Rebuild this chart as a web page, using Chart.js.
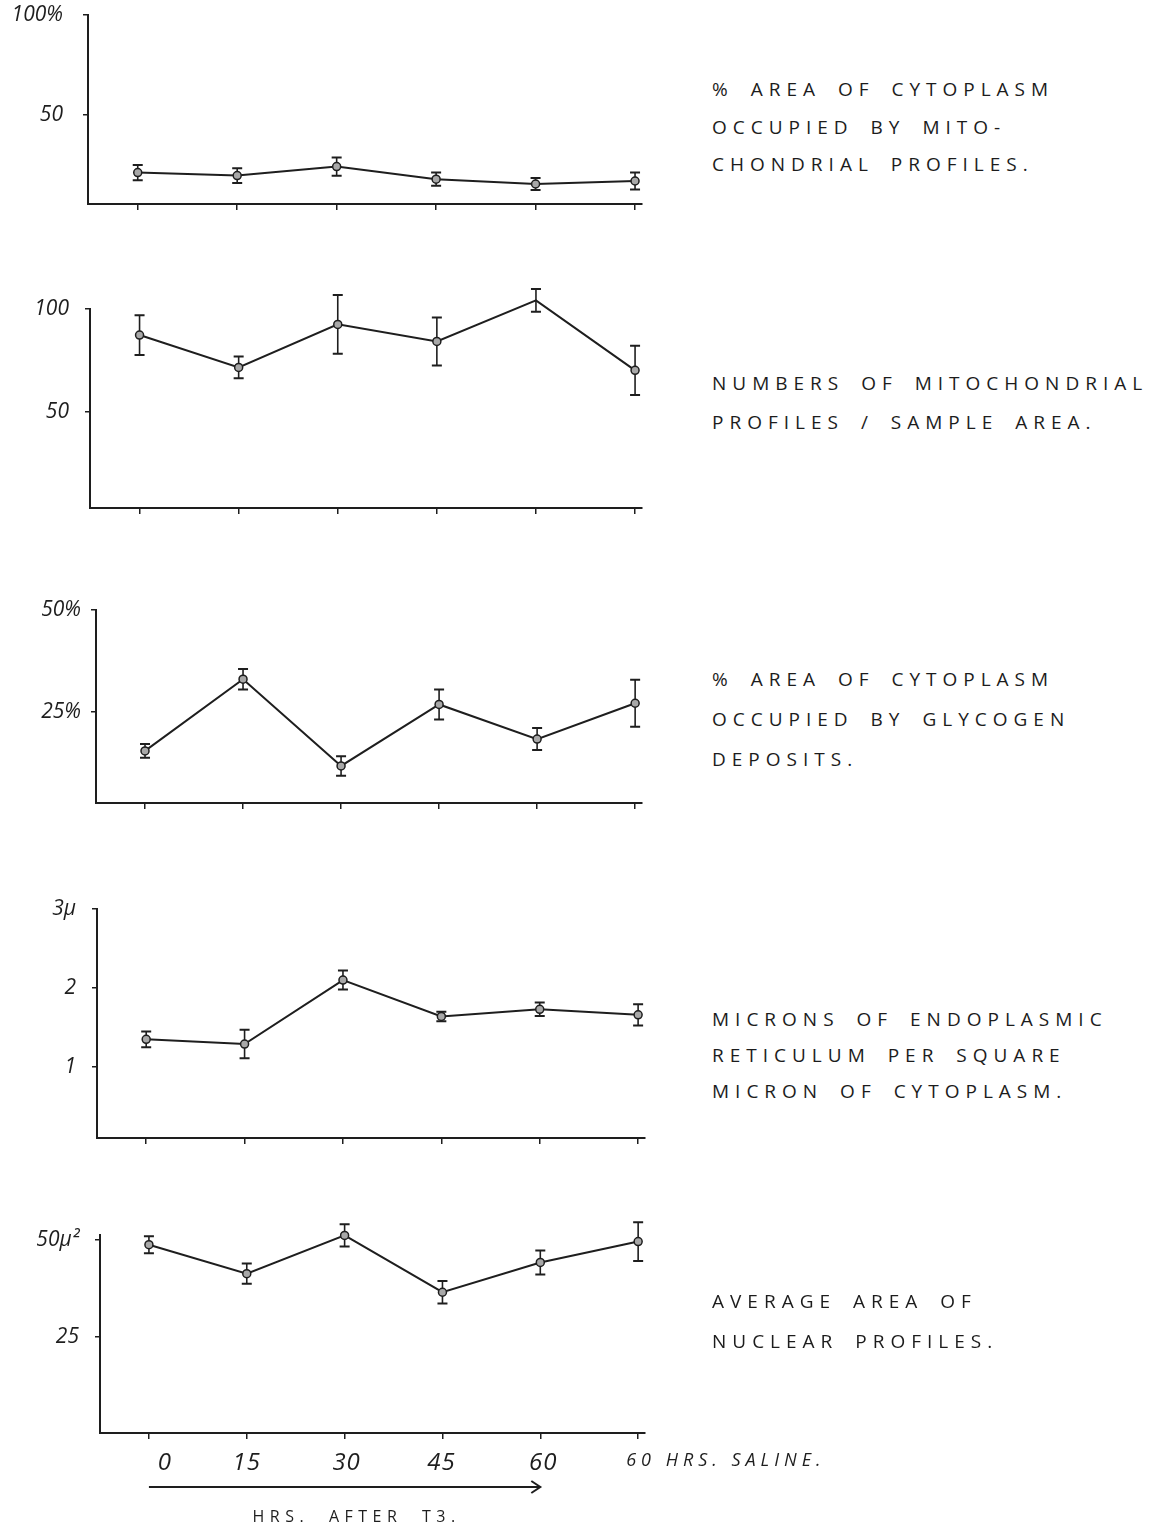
<!DOCTYPE html>
<html><head><meta charset="utf-8">
<script src="https://cdn.jsdelivr.net/npm/chart.js@4.4.0/dist/chart.umd.min.js"></script>
<style>
body{margin:0;background:#fff;width:1156px;height:1528px;position:relative;overflow:hidden;}
canvas.c{position:absolute;left:0;}
.desc{position:absolute;left:712px;color:#1c1c1c;font-family:'Open Sans','DejaVu Sans',sans-serif;font-size:19px;letter-spacing:6px;word-spacing:6px;white-space:nowrap;}
</style></head><body>
<script>
// ---- data ----
const categories = ['0','15','30','45','60','60 HRS. SALINE.'];
const mitoAreaMean = [21.2, 19.7, 24.2, 17.9, 15.5, 17.0];
const mitoAreaErr  = [3.8, 3.7, 4.6, 3.3, 3.0, 4.3];
const mitoNumMean  = [87.3, 71.5, 92.5, 84.2, 104.2, 70.1];
const mitoNumErr   = [9.7, 5.3, 14.3, 11.7, 5.5, 12.0];
const glycoMean    = [15.4, 33.0, 11.7, 26.8, 18.3, 27.1];
const glycoErr     = [1.7, 2.5, 2.4, 3.7, 2.7, 5.8];
const erMean       = [1.35, 1.29, 2.10, 1.64, 1.73, 1.66];
const erErr        = [0.10, 0.18, 0.12, 0.06, 0.085, 0.135];
const nucMean      = [48.8, 41.3, 51.2, 36.5, 44.2, 49.6];
const nucErr       = [2.2, 2.6, 2.9, 2.9, 3.1, 5.0];
const mitoAreaTicks = [50, 100];   const mitoAreaTickLabels = ['50', '100%'];
const mitoNumTicks  = [50, 100];   const mitoNumTickLabels  = ['50', '100'];
const glycoTicks    = [25, 50];    const glycoTickLabels    = ['25%', '50%'];
const erTicks       = [1, 2, 3];   const erTickLabels       = ['1', '2', '3\u03bc'];
const nucTicks      = [25, 50];    const nucTickLabels      = ['25', '50\u03bc\u00b2'];
const descriptions = [
  ['% AREA OF CYTOPLASM', 'OCCUPIED BY MITO-', 'CHONDRIAL PROFILES.'],
  ['NUMBERS OF MITOCHONDRIAL', 'PROFILES / SAMPLE AREA.'],
  ['% AREA OF CYTOPLASM', 'OCCUPIED BY GLYCOGEN', 'DEPOSITS.'],
  ['MICRONS OF ENDOPLASMIC', 'RETICULUM PER SQUARE', 'MICRON OF CYTOPLASM.'],
  ['AVERAGE AREA OF', 'NUCLEAR PROFILES.']
];
const xAxisTitle = 'HRS. AFTER T3.';

// ---- layout ----
const INK = '#1e1e1e';
const FONT = "'Open Sans','DejaVu Sans',sans-serif";
const panels = [
  {mean: mitoAreaMean, err: mitoAreaErr, ticks: mitoAreaTicks, labels: mitoAreaTickLabels, top: 15, bottom: 204, left: 88, right: 642, yMin: 5.5, yMax: 100, descTop: 71, descLH: 37.5, lpad: 20},
  {mean: mitoNumMean, err: mitoNumErr, ticks: mitoNumTicks, labels: mitoNumTickLabels, top: 309, bottom: 508, left: 90, right: 642, yMin: 3, yMax: 100, descTop: 364, descLH: 39, lpad: 16},
  {mean: glycoMean, err: glycoErr, ticks: glycoTicks, labels: glycoTickLabels, top: 610, bottom: 803, left: 96, right: 642, yMin: 2.6, yMax: 50, descTop: 659, descLH: 40, lpad: 10},
  {mean: erMean, err: erErr, ticks: erTicks, labels: erTickLabels, top: 909, bottom: 1138, left: 97, right: 645, yMin: 0.1, yMax: 3, descTop: 1001, descLH: 36, lpad: 16},
  {mean: nucMean, err: nucErr, ticks: nucTicks, labels: nucTickLabels, top: 1235, bottom: 1433, left: 100, right: 645, yMin: 0.1, yMax: 51.3, descTop: 1281, descLH: 40, lpad: 16, last: true}
];

const errorBars = {
  id: 'errorBars',
  beforeDatasetsDraw(chart, args, opts) {
    const {ctx, scales: {x, y}} = chart;
    ctx.save();
    ctx.strokeStyle = INK;
    opts.mean.forEach((m, i) => {
      const px = x.getPixelForValue(i);
      const hi = y.getPixelForValue(m + opts.err[i]);
      const lo = y.getPixelForValue(m - opts.err[i]);
      ctx.lineWidth = 1.6;
      ctx.beginPath(); ctx.moveTo(px, hi); ctx.lineTo(px, lo); ctx.stroke();
      ctx.lineWidth = 2;
      ctx.beginPath();
      ctx.moveTo(px - 5, hi); ctx.lineTo(px + 5, hi);
      ctx.moveTo(px - 5, lo); ctx.lineTo(px + 5, lo);
      ctx.stroke();
    });
    ctx.restore();
  }
};

const bottomLabels = {
  id: 'bottomLabels',
  afterDraw(chart, args, opts) {
    if (!opts.show) return;
    const {ctx, scales: {x}, chartArea} = chart;
    ctx.save();
    ctx.fillStyle = INK;
    ctx.textBaseline = 'middle';
    const ly = chartArea.bottom + 30;
    const offs = [16, 0, 2, -1, 3];
    categories.forEach((c, i) => {
      const px = x.getPixelForValue(i);
      if (i === categories.length - 1) {
        ctx.font = "italic 18px " + FONT;
        ctx.letterSpacing = '5px';
        ctx.textAlign = 'left';
        ctx.fillText(c, px - 12, ly - 2);
      } else {
        ctx.font = "italic 24px " + FONT;
        ctx.letterSpacing = '1px';
        ctx.textAlign = 'center';
        ctx.fillText(c, px + offs[i], ly);
      }
    });
    // arrow
    const ay = chartArea.bottom + 54;
    const x0 = x.getPixelForValue(0), x1 = x.getPixelForValue(4);
    ctx.strokeStyle = INK; ctx.lineWidth = 2;
    ctx.beginPath(); ctx.moveTo(x0, ay); ctx.lineTo(x1, ay); ctx.stroke();
    ctx.beginPath(); ctx.moveTo(x1 - 9, ay - 6); ctx.lineTo(x1, ay); ctx.lineTo(x1 - 9, ay + 6); ctx.stroke();
    ctx.font = "16px " + FONT;
    ctx.letterSpacing = '5.5px';
    ctx.wordSpacing = '10px';
    ctx.textAlign = 'center';
    ctx.fillText(xAxisTitle, (x0 + x1) / 2 + 12, chartArea.bottom + 84);
    ctx.restore();
  }
};

panels.forEach((p, k) => {
  const padTop = 30;
  const W = p.last ? 900 : 660;
  const xh = p.last ? 1528 - p.bottom : 14;
  const cTop = p.top - padTop;
  const cH = p.bottom - cTop + xh;
  const cv = document.createElement('canvas');
  cv.className = 'c';
  cv.style.top = cTop + 'px';
  cv.style.width = W + 'px'; cv.style.height = cH + 'px';
  cv.width = W; cv.height = cH;
  document.body.appendChild(cv);

  const d = document.createElement('div');
  d.className = 'desc';
  d.style.top = p.descTop + 'px';
  descriptions[k].forEach(t => { const l = document.createElement('div'); l.textContent = t; l.style.height = p.descLH + 'px'; l.style.lineHeight = p.descLH + 'px'; d.appendChild(l); });
  document.body.appendChild(d);

  new Chart(cv, {
    type: 'line',
    data: {
      datasets: [{
        data: p.mean.map((v, i) => ({x: i, y: v})),
        borderColor: INK, borderWidth: 2, tension: 0,
        pointRadius: 4, pointBackgroundColor: '#a8a8a8', pointBorderColor: INK, pointBorderWidth: 1.5,
        clip: false
      }]
    },
    options: {
      responsive: false, animation: false, devicePixelRatio: 1,
      layout: {padding: {top: padTop, right: W - p.right, left: 0, bottom: 0}},
      plugins: {legend: {display: false}, tooltip: {enabled: false},
        errorBars: {mean: p.mean, err: p.err}, bottomLabels: {show: !!p.last}},
      scales: {
        x: {
          type: 'linear', min: -0.5, max: 5.07,
          afterBuildTicks: s => { s.ticks = categories.map((c, i) => ({value: i})); },
          afterFit: s => { s.height = xh; s.paddingLeft = 0; s.paddingRight = 0; },
          ticks: {display: false},
          grid: {drawOnChartArea: false, drawTicks: true, tickLength: 6, color: INK, lineWidth: 1.5},
          border: {display: true, color: INK, width: 2}
        },
        y: {
          type: 'linear', min: p.yMin, max: p.yMax,
          afterBuildTicks: s => { s.ticks = p.ticks.map(v => ({value: v})); },
          afterFit: s => { s.width = p.left; s.paddingTop = 0; s.paddingBottom = 0; },
          ticks: {
            callback: v => { const i = p.ticks.indexOf(v); return i >= 0 ? p.labels[i] : ''; },
            color: INK, font: {family: FONT, size: 21, style: 'italic'}, padding: p.lpad
          },
          grid: {drawOnChartArea: false, drawTicks: true, tickLength: 5, color: INK, lineWidth: 1.5},
          border: {display: true, color: INK, width: 2}
        }
      }
    },
    plugins: [errorBars, bottomLabels]
  });
});
</script>
</body></html>
